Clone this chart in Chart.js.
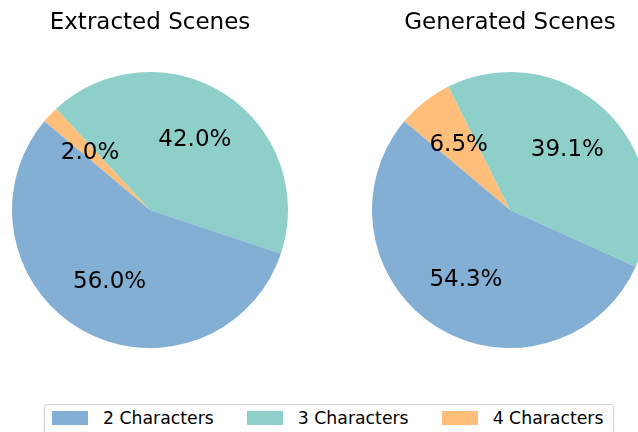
<!DOCTYPE html>
<html>
<head>
<meta charset="utf-8">
<script src="https://cdn.jsdelivr.net/npm/chart.js@4"></script>
<style>
  html, body { margin: 0; padding: 0; width: 638px; height: 432px; overflow: hidden; background: #fff; }
  #left { position: absolute; left: 0; top: 0; }
  #right { position: absolute; left: 360px; top: 0; }
  #legend {
    position: absolute; left: 44px; top: 404px; width: 570px; height: 40px;
    box-sizing: border-box; border: 1px solid #d4d4d4; border-radius: 3px;
    display: flex; align-items: flex-start; padding: 6px 0 0 7px;
    font-family: "DejaVu Sans", sans-serif; font-size: 17.3px; color: #000;
    white-space: nowrap;
  }
  .item { display: flex; align-items: center; margin-right: 33px; height: 14px; flex-shrink: 0; }
  .swatch { width: 36px; height: 14px; margin-right: 15px; flex-shrink: 0; }
</style>
</head>
<body>
<canvas id="left" width="300" height="348"></canvas>
<canvas id="right" width="300" height="348"></canvas>
<div id="legend"></div>
<script>
// 데이터 (퍼센트)
const categories = ['2 Characters', '3 Characters', '4 Characters'];
const extractedValues = [56.0, 42.0, 2.0];
const generatedValues = [54.3, 39.1, 6.5];
const titles = ['Extracted Scenes', 'Generated Scenes'];
const colors = ['#82afd3', '#8ecfc9', '#ffbe7a'];

const FONT = '"DejaVu Sans", sans-serif';

// 퍼센트 라벨 플러그인 (반지름 0.6 위치)
const pctLabels = {
    id: 'pctLabels',
    afterDatasetsDraw(chart) {
        const ctx = chart.ctx;
        const meta = chart.getDatasetMeta(0);
        const data = chart.data.datasets[0].data;
        ctx.save();
        ctx.font = '23px ' + FONT;
        ctx.fillStyle = '#000';
        ctx.textAlign = 'center';
        ctx.textBaseline = 'middle';
        meta.data.forEach((arc, i) => {
            const p = arc.getProps(['x', 'y', 'startAngle', 'endAngle', 'outerRadius'], true);
            const mid = (p.startAngle + p.endAngle) / 2;
            const r = p.outerRadius * 0.6;
            ctx.fillText(data[i].toFixed(1) + '%', p.x + Math.cos(mid) * r, p.y + Math.sin(mid) * r);
        });
        ctx.restore();
    }
};

// 파이 차트 생성 (matplotlib 반시계 순서 → 역순으로 시계방향)
function createPie(id, values, title) {
    const ctx = document.getElementById(id).getContext('2d');
    return new Chart(ctx, {
        type: 'pie',
        data: {
            labels: categories.slice().reverse(),
            datasets: [{
                data: values.slice().reverse(),
                backgroundColor: colors.slice().reverse(),
                borderWidth: 0,
                hoverBorderWidth: 0,
                hoverOffset: 0,
                offset: 0
            }]
        },
        options: {
            responsive: false,
            animation: false,
            rotation: -50,
            events: [],
            layout: { padding: 0 },
            plugins: {
                legend: { display: false },
                tooltip: { enabled: false },
                title: {
                    display: true,
                    text: title,
                    color: '#000',
                    font: { family: FONT, size: 23, weight: 'normal', lineHeight: 1.2 },
                    padding: { top: 9, bottom: 35.4 }
                }
            }
        },
        plugins: [pctLabels]
    });
}

// 범례
function createLegend() {
    const box = document.getElementById('legend');
    categories.forEach((name, i) => {
        const item = document.createElement('div');
        item.className = 'item';
        const sw = document.createElement('span');
        sw.className = 'swatch';
        sw.style.background = colors[i];
        const label = document.createElement('span');
        label.textContent = name;
        item.appendChild(sw);
        item.appendChild(label);
        box.appendChild(item);
    });
}

createPie('left', extractedValues, titles[0]);
createPie('right', generatedValues, titles[1]);
createLegend();
</script>
</body>
</html>
